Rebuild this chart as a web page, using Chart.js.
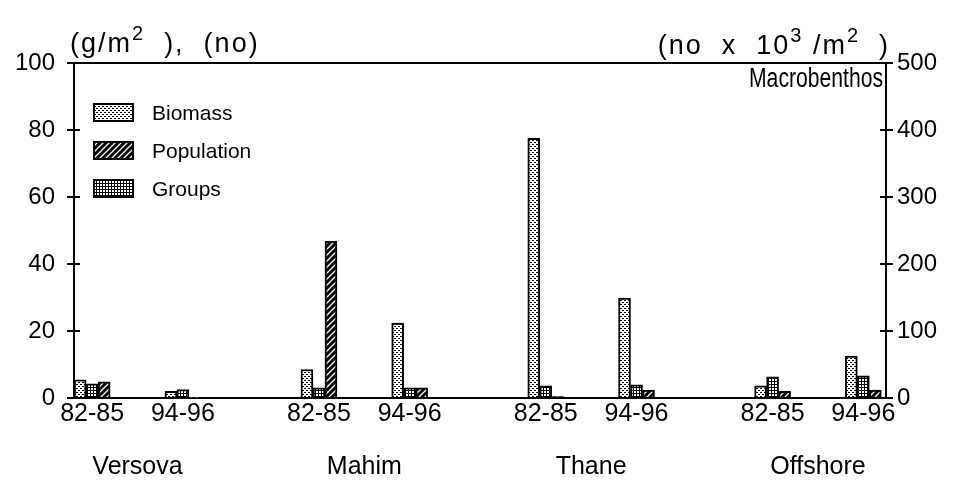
<!DOCTYPE html>
<html>
<head>
<meta charset="utf-8">
<script src="https://cdn.jsdelivr.net/npm/chart.js@4.4.1/dist/chart.umd.min.js"></script>
<style>
  html, body { margin: 0; padding: 0; background: #fff; }
</style>
</head>
<body>
<canvas id="chart" width="967" height="497"></canvas>
<script>
// Données (ordre : Versova 82-85, Versova 94-96, Mahim ..., Thane ..., Offshore ...)
const sites = ['Versova', 'Mahim', 'Thane', 'Offshore'];
const periods = ['82-85', '94-96'];
const biomass = [5.4, 2.0, 8.5, 22.4, 77.5, 29.8, 3.6, 12.5];   // g/m2, axe gauche
const groups = [4.2, 2.5, 3.0, 3.0, 3.6, 3.9, 6.3, 6.6];        // no, axe gauche
const population = [24, 1, 234, 15, 2, 12, 10, 12];             // no x 10^3/m2, axe droit
const leftTicks = [0, 20, 40, 60, 80, 100];
const rightTicks = [0, 100, 200, 300, 400, 500];

const FONT = '"Liberation Sans", Arial, sans-serif';

// position horizontale : deux périodes par site, un espace entre les sites
function xPos(i) {
    return Math.floor(i / 2) * 2.5 + (i % 2);
}

const tickPos = [];
const tickText = {};
sites.forEach((s, si) => {
    periods.forEach((p, pi) => {
        const v = si * 2.5 + pi;
        tickPos.push(v);
        tickText[v] = p;
    });
    const mid = si * 2.5 + 0.5;
    tickPos.push(mid);
    tickText[mid] = ['', s];
});

const canvas = document.getElementById('chart');
const mainCtx = canvas.getContext('2d');

function makePattern(kind) {
    const c = document.createElement('canvas');
    const g = c.getContext('2d');
    if (kind === 'dots') {
        c.width = 4; c.height = 4;
        g.fillStyle = '#fff'; g.fillRect(0, 0, 4, 4);
        g.fillStyle = '#000';
        g.fillRect(0, 0, 2, 1); g.fillRect(2, 2, 2, 1);
    } else if (kind === 'grid') {
        c.width = 3; c.height = 3;
        g.fillStyle = '#fff'; g.fillRect(0, 0, 3, 3);
        g.fillStyle = '#000';
        g.fillRect(0, 0, 3, 1); g.fillRect(0, 0, 1, 3);
    } else {
        c.width = 6; c.height = 6;
        g.fillStyle = '#000'; g.fillRect(0, 0, 6, 6);
        g.strokeStyle = '#fff'; g.lineWidth = 1.3;
        g.beginPath();
        g.moveTo(0, 6); g.lineTo(6, 0);
        g.moveTo(-3, 3); g.lineTo(3, -3);
        g.moveTo(3, 9); g.lineTo(9, 3);
        g.stroke();
    }
    return mainCtx.createPattern(c, 'repeat');
}

const patDots = makePattern('dots');
const patGrid = makePattern('grid');
const patHatch = makePattern('hatch');

// texte avec exposants : runs = [[texte, exposant?], ...]
function drawRuns(ctx, runs, x, y, align) {
    const size = 27, supSize = 20;
    ctx.letterSpacing = '2px';
    let total = 0;
    runs.forEach(r => {
        ctx.font = (r[1] ? supSize : size) + 'px ' + FONT;
        total += ctx.measureText(r[0]).width;
    });
    let cx = align === 'right' ? x - total : x;
    ctx.textAlign = 'left';
    ctx.textBaseline = 'alphabetic';
    runs.forEach(r => {
        ctx.font = (r[1] ? supSize : size) + 'px ' + FONT;
        ctx.fillText(r[0], cx, r[1] ? y - 12 : y);
        cx += ctx.measureText(r[0]).width;
    });
    ctx.letterSpacing = '0px';
}

const decor = {
    id: 'decor',
    afterDraw(chart) {
        const { ctx, chartArea: a, scales } = chart;
        ctx.save();
        ctx.strokeStyle = '#000';
        ctx.fillStyle = '#000';
        ctx.lineWidth = 2;

        // ligne du haut
        ctx.beginPath();
        ctx.moveTo(a.left - 1, a.top);
        ctx.lineTo(a.right + 1, a.top);
        ctx.stroke();

        // graduations vers l'intérieur
        ctx.beginPath();
        leftTicks.forEach(v => {
            const y = scales.y.getPixelForValue(v);
            ctx.moveTo(a.left, y); ctx.lineTo(a.left + 6, y);
        });
        rightTicks.forEach(v => {
            const y = scales.y1.getPixelForValue(v);
            ctx.moveTo(a.right, y); ctx.lineTo(a.right - 6, y);
        });
        ctx.stroke();

        // titres
        drawRuns(ctx, [['(g/m', false], ['2', true], ['  ),  (no)', false]], 70, 52, 'left');
        drawRuns(ctx, [['(no  x  10', false], ['3', true], [' /m', false], ['2', true], ['  )', false]], 890, 54, 'right');
        ctx.font = '27px ' + FONT;
        ctx.textAlign = 'right';
        ctx.textBaseline = 'alphabetic';
        ctx.fillText('Macrobenthos', 883, 87, 134);

        // légende
        const items = [['Biomass', patDots, 104], ['Population', patHatch, 142], ['Groups', patGrid, 180]];
        ctx.font = '21px ' + FONT;
        ctx.textAlign = 'left';
        ctx.textBaseline = 'middle';
        items.forEach(it => {
            ctx.fillStyle = it[1];
            ctx.fillRect(94, it[2], 39, 17);
            ctx.strokeRect(94, it[2], 39, 17);
            ctx.fillStyle = '#000';
            ctx.fillText(it[0], 152, it[2] + 10);
        });
        ctx.restore();
    }
};

const toPoints = arr => arr.map((v, i) => ({ x: xPos(i), y: v }));

new Chart(canvas, {
    type: 'bar',
    data: {
        datasets: [
            { label: 'Biomass', data: toPoints(biomass), backgroundColor: patDots, yAxisID: 'y' },
            { label: 'Groups', data: toPoints(groups), backgroundColor: patGrid, yAxisID: 'y' },
            { label: 'Population', data: toPoints(population), backgroundColor: patHatch, yAxisID: 'y1' }
        ]
    },
    options: {
        responsive: false,
        animation: false,
        layout: { padding: { top: 63, left: 0, right: 0, bottom: 0 } },
        datasets: {
            bar: { barThickness: 12, borderColor: '#000', borderWidth: 2, borderSkipped: 'start' }
        },
        plugins: {
            legend: { display: false },
            tooltip: { enabled: false }
        },
        scales: {
            x: {
                type: 'linear',
                min: -0.2,
                max: 8.75,
                offset: false,
                afterBuildTicks: s => { s.ticks = tickPos.map(v => ({ value: v })); },
                grid: { display: false, drawTicks: false },
                border: { display: true, color: '#000', width: 2 },
                ticks: {
                    autoSkip: false,
                    maxRotation: 0,
                    color: '#000',
                    padding: -10,
                    font: { family: FONT, size: 25, lineHeight: '53px' },
                    callback: v => tickText[v]
                },
                afterFit: s => { s.height = 99; }
            },
            y: {
                position: 'left',
                min: 0,
                max: 100,
                afterBuildTicks: s => { s.ticks = leftTicks.map(v => ({ value: v })); },
                grid: { drawOnChartArea: false, color: '#000', lineWidth: 2, tickLength: 7 },
                border: { color: '#000', width: 2 },
                ticks: { color: '#000', padding: 12, font: { family: FONT, size: 24 } },
                afterFit: s => { s.width = 74; }
            },
            y1: {
                position: 'right',
                min: 0,
                max: 500,
                afterBuildTicks: s => { s.ticks = rightTicks.map(v => ({ value: v })); },
                grid: { drawOnChartArea: false, color: '#000', lineWidth: 2, tickLength: 7 },
                border: { color: '#000', width: 2 },
                ticks: { color: '#000', padding: 4, font: { family: FONT, size: 24 } },
                afterFit: s => { s.width = 81; }
            }
        }
    },
    plugins: [decor]
});
</script>
</body>
</html>
